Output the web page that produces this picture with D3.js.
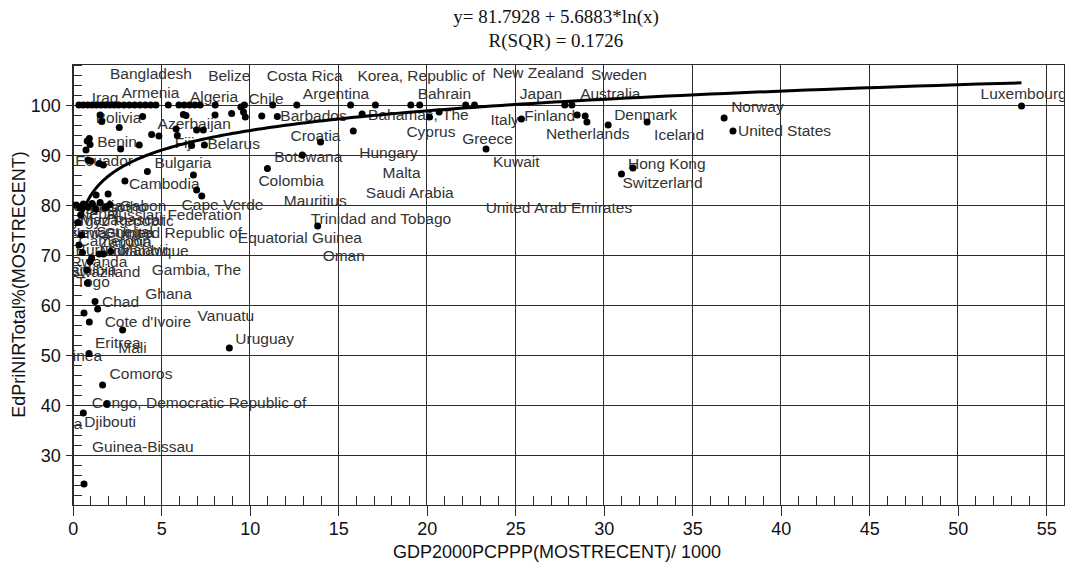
<!DOCTYPE html>
<html><head><meta charset="utf-8">
<script src="https://cdn.jsdelivr.net/npm/d3@7"></script>
<style>body{margin:0;background:#fff}svg{display:block}</style>
</head><body><svg id="c" width="1070" height="563"></svg>
<script>
// ---------- data ----------
const countries = [
 "","","Iraq","","","Bangladesh","","","","Armenia","","","","","","","",
 "","Algeria","","","","Belize","","Chile","Costa Rica","Argentina","Malta","Korea, Republic of","Saudi Arabia","Bahrain","United Arab Emirates","New Zealand","Japan","Sweden",
 "","Bolivia","Azerbaijan","","","Benin","","","","","","","","","","","Fiji","","","Belarus","","","Equatorial Guinea","","","Mauritius","Barbados",
 "","","Ecuador","","Bulgaria","","Cambodia","Russian Federation","Nicaragua","Cape Verde","Gabon","Trinidad and Tobago","Croatia","Botswana","Colombia","Hungary","Bahamas, The","Cyprus","Greece","Kuwait","Italy","Finland","Australia","Netherlands","Denmark","Iceland","Norway","United States","Luxembourg","Switzerland","Hong Kong",
 "Chad","Cote d'Ivoire","Guinea","Mali","Vanuatu","Eritrea","Uruguay","Comoros","Congo, Democratic Republic of","Djibouti","Guinea-Bissau","Ethiopia","Swaziland","Malawi","Namibia","Togo","Ghana","Gambia, The",
 "Mongolia","Lesotho","Nepal","Kyrgyz Republic","Madagascar","Tanzania, United Republic of","Senegal","Cameroon","Zambia","Papua New Guinea","Burundi","Mozambique","Rwanda","Oman"
];
const gdp = [
 0.35,0.6,0.85,1.1,1.35,1.6,1.85,2.1,2.35,2.6,2.9,3.2,3.5,3.8,4.1,4.4,4.7,
 5.4,6.0,6.3,6.6,6.9,7.2,8.05,9.7,11.3,12.66,15.7,17.1,19.1,19.6,22.2,22.7,27.8,28.2,
 1.55,1.64,3.95,2.63,0.94,0.82,0.98,0.75,2.71,3.76,4.46,4.87,5.84,5.91,6.25,6.4,6.72,7.0,7.38,7.44,8.04,8.98,9.5,9.65,9.75,10.68,11.56,
 0.86,1.02,1.5,1.73,4.22,6.82,2.95,2.0,1.32,7.0,7.29,13.84,14.0,12.97,11.0,15.85,16.35,20.15,20.7,23.35,25.35,28.5,28.95,29.05,30.25,32.45,36.8,37.3,53.6,31.0,31.65,
 1.26,1.41,0.64,0.94,2.82,0.92,8.85,1.69,1.92,0.6,0.64,0.83,0.79,0.98,1.07,1.5,1.73,2.15,
 0.2,0.4,0.6,0.85,1.1,1.3,1.55,1.85,2.1,0.3,0.5,0.35,0.55,0.45
];
const nir = [
 100,100,100,100,100,100,100,100,100,100,100,100,100,100,100,100,100,
 100,100,100,100,100,100,100,100,100,100,100,100,100,100,100,100,100,100,
 98.0,96.7,97.7,95.5,93.3,92.8,92.1,91.0,91.2,92.0,94.1,93.8,95.2,93.9,98.1,97.9,91.9,95.0,95.0,92.0,98.0,98.3,99.6,98.6,97.6,97.8,97.7,
 89.0,88.8,88.3,88.0,86.7,86.0,84.8,82.2,82.0,83.0,81.8,75.8,92.6,90.0,87.3,94.8,98.2,97.6,98.6,91.2,97.2,98.0,97.8,96.6,96.0,96.6,97.4,94.8,99.8,86.2,87.4,
 60.7,59.2,58.4,56.6,55.0,50.3,51.4,44.0,40.2,38.4,24.2,64.4,67.0,68.7,69.4,70.2,70.2,70.7,
 80.0,79.4,80.2,79.6,80.3,79.2,80.5,79.5,80.1,76.5,74.0,72.0,70.5,78.0
];
const xTicks = [0,5,10,15,20,25,30,35,40,45,50,55];
const yTicks = [30,40,50,60,70,80,90,100];
const fitA = 81.7928, fitB = 5.6883;
const fitRange = [0.5, 53.6];
const titleLines = ["y= 81.7928 + 5.6883*ln(x)", "R(SQR) = 0.1726"];
const xTitle = "GDP2000PCPPP(MOSTRECENT)/ 1000";
const yTitle = "EdPriNIRTotal%(MOSTRECENT)";

// ---------- layout (label offsets in px: left edge, vertical centre) ----------
const labelOffset = {
 "Iraq":[4,-7],"Bangladesh":[9,-31],"Armenia":[3,-12],"Algeria":[11,-8],"Belize":[8,-29],"Chile":[4,-6],
 "Costa Rica":[-6,-29],"Argentina":[6,-11],"Malta":[32,68],"Korea, Republic of":[-18,-29],"Saudi Arabia":[-45,88],
 "Bahrain":[-2,-11],"United Arab Emirates":[20,103],"New Zealand":[18,-32],"Japan":[-45,-11],"Sweden":[19,-30],
 "Bolivia":[-6,-4],"Azerbaijan":[15,7],"Benin":[10,1],"Fiji":[-17,-3],"Belarus":[3,-1],"Equatorial Guinea":[-3,131],
 "Mauritius":[22,85],"Barbados":[3,-1],"Ecuador":[-24,-3],"Bulgaria":[7,-9],"Cambodia":[4,3],"Russian Federation":[-1,21],
 "Nicaragua":[-56,11],"Cape Verde":[-15,15],"Gabon":[-82,10],"Trinidad and Tobago":[-7,-7],"Croatia":[-30,-6],
 "Botswana":[-28,2],"Colombia":[-9,12],"Hungary":[6,22],"Bahamas, The":[6,1],"Cyprus":[-23,15],"Greece":[23,27],
 "Kuwait":[7,13],"Italy":[-31,1],"Finland":[-53,1],"Australia":[-5,-22],"Netherlands":[-41,12],"Denmark":[6,-10],
 "Iceland":[7,13],"Norway":[7,-11],"United States":[5,0],"Luxembourg":[-41,-12],"Switzerland":[1,9],"Hong Kong":[-5,-4],
 "Chad":[7,0],"Cote d'Ivoire":[7,13],"Guinea":[-32,43],"Mali":[29,26],"Vanuatu":[75,-14],"Eritrea":[6,-11],
 "Uruguay":[6,-9],"Comoros":[7,-11],"Congo, Democratic Republic of":[-15,-1],"Djibouti":[1,9],"Guinea-Bissau":[8,-37],
 "Ethiopia":[-61,141],"Swaziland":[-17,2],"Malawi":[30,-12],"Namibia":[-32,12],"Togo":[-23,28],"Ghana":[42,40],
 "Gambia, The":[41,18],"Mongolia":[-16,1],"Lesotho":[12,-1],"Nepal":[-5,10],"Kyrgyz Republic":[-26,14],
 "Madagascar":[-12,16],"Tanzania, United Republic of":[-51,24],"Senegal":[-4,29],"Cameroon":[-27,33],"Zambia":[-10,37],
 "Papua New Guinea":[-58,10],"Burundi":[-6,15],"Mozambique":[21,6],"Rwanda":[-12,9],"Oman":[242,41]
};

const L = 72.7, R = 1064, T = 64, B = 505;
const svg = d3.select("#c");
const x = d3.scaleLinear().domain([0, 56]).range([L, R]);
const y = d3.scaleLinear().domain([20, 108.2]).range([B, T]);
const data = countries.map((c, i) => ({name: c, x: gdp[i], y: nir[i]}));

svg.append("defs").append("clipPath").attr("id","plot")
  .append("rect").attr("x", L).attr("y", T).attr("width", R - L).attr("height", B - T);

const gridColor = "#2a2a2a";
const grid = svg.append("g").attr("shape-rendering","crispEdges").attr("stroke", gridColor).attr("stroke-width",1);
grid.selectAll("line.vx").data(xTicks.filter(d => d > 0)).join("line")
  .attr("x1", d => x(d)).attr("x2", d => x(d)).attr("y1", T).attr("y2", B);
grid.selectAll("line.hy").data(yTicks).join("line")
  .attr("y1", d => y(d)).attr("y2", d => y(d)).attr("x1", L).attr("x2", R);
svg.append("rect").attr("x", L).attr("y", T).attr("width", R - L).attr("height", B - T)
  .attr("fill","none").attr("stroke", gridColor).attr("shape-rendering","crispEdges");

const fontAxis = "'Liberation Sans', Arial, sans-serif";
const xAxis = svg.append("g").attr("transform", `translate(0,${B})`)
  .call(d3.axisBottom(x).tickValues(xTicks).tickSize(11).tickSizeOuter(0).tickPadding(5));
const xMinor = svg.append("g").attr("transform", `translate(0,${B})`)
  .call(d3.axisBottom(x).tickValues(d3.range(1, 56).filter(v => v % 5 !== 0)).tickSize(-9).tickSizeOuter(0).tickFormat(""));
const yAxis = svg.append("g").attr("transform", `translate(${L},0)`)
  .call(d3.axisLeft(y).tickValues(yTicks).tickSize(7).tickSizeOuter(0).tickPadding(5));
const yMinor = svg.append("g").attr("transform", `translate(${L},0)`)
  .call(d3.axisLeft(y).tickValues(d3.range(22, 108.2, 2).filter(v => v % 10 !== 0)).tickSize(-9).tickSizeOuter(0).tickFormat(""));
[xAxis, xMinor, yAxis, yMinor].forEach(g => {
  g.attr("shape-rendering","crispEdges");
  g.selectAll("path").attr("stroke", gridColor);
  g.selectAll("line").attr("stroke", gridColor);
  g.selectAll("text").attr("font-family", fontAxis).attr("font-size", 18).attr("fill", "#111");
});
xAxis.selectAll("text").attr("dy", "0.8em");
yAxis.selectAll("text").attr("dy", "0.35em");

svg.append("text").attr("x", 557).attr("y", 558).attr("text-anchor","middle")
  .attr("font-family", fontAxis).attr("font-size", 18).attr("fill","#111").text(xTitle);
svg.append("text").attr("transform", `translate(25,${(T + B) / 2}) rotate(-90)`).attr("text-anchor","middle")
  .attr("font-family", fontAxis).attr("font-size", 18).attr("fill","#111").text(yTitle);

svg.append("g").selectAll("text").data(titleLines).join("text")
  .attr("x", 556).attr("y", (d, i) => 23 + i * 24).attr("text-anchor","middle")
  .attr("font-family","'Liberation Serif','Times New Roman',serif").attr("font-size", 19).attr("fill","#111")
  .text(d => d);

const plot = svg.append("g").attr("clip-path","url(#plot)");

plot.append("g").selectAll("text").data(data.filter(d => d.name && labelOffset[d.name])).join("text")
  .attr("x", d => x(d.x) + labelOffset[d.name][0])
  .attr("y", d => y(d.y) + labelOffset[d.name][1])
  .attr("dy","0.35em")
  .attr("font-family", fontAxis).attr("font-size", 15.5).attr("fill","#333")
  .text(d => d.name);

const curvePts = d3.range(0, 201).map(i => {
  const gx = fitRange[0] * Math.pow(fitRange[1] / fitRange[0], i / 200);
  return [gx, fitA + fitB * Math.log(gx)];
});
plot.append("path").datum(curvePts)
  .attr("fill","none").attr("stroke","#000").attr("stroke-width",3)
  .attr("d", d3.line().x(d => x(d[0])).y(d => y(d[1])));

plot.append("g").selectAll("circle").data(data).join("circle")
  .attr("cx", d => x(d.x)).attr("cy", d => y(d.y)).attr("r", 3.5).attr("fill","#000");
</script>
</body></html>
